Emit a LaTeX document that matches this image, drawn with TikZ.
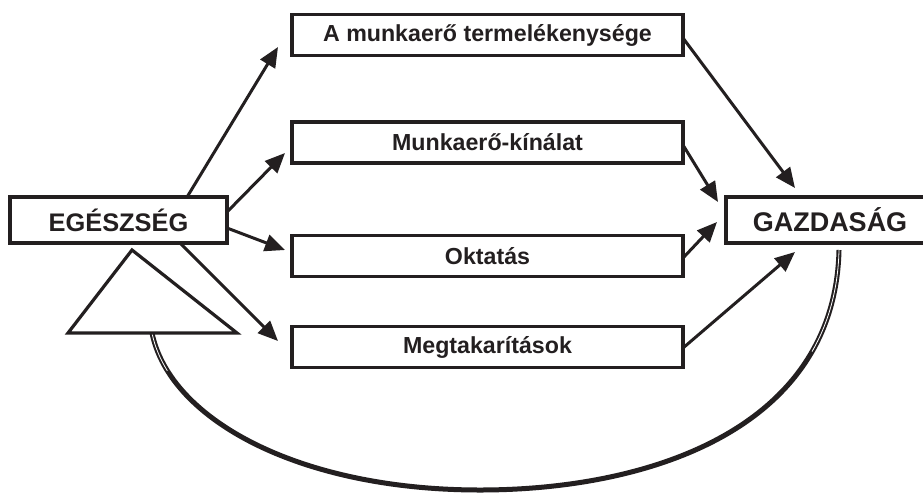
\documentclass[tikz,border=0pt]{standalone}
\usepackage{fontspec}
\setmainfont{Liberation Sans}
\usetikzlibrary{arrows.meta,calc}
\definecolor{ink}{HTML}{231F20}
\begin{document}
\begin{tikzpicture}[x=1pt,y=-1pt,
  box/.style={draw=ink, line width=3.4pt, minimum width=391pt, minimum height=41pt,
    inner sep=0pt, outer sep=0pt, text=ink, font=\fontsize{23.2}{27}\selectfont\bfseries},
  bigbox/.style={box, minimum height=46pt},
  arr/.style={draw=ink, line width=3pt, -{Triangle[length=20pt,width=17pt]}},
  band/.style={draw=ink, line width=5pt},
  gap/.style={draw=white, line width=0.8pt},
  tri/.style={draw=ink, line width=3.2pt, fill=white, line join=miter}]
\clip (0,0) rectangle (923,493);
\fill[white] (0,0) rectangle (923,493);
% nodes
\node[bigbox, minimum width=217pt, font=\fontsize{25.4}{30}\selectfont\bfseries] (egesz) at (118.5,220) {EGÉSZSÉG};
\node[bigbox, minimum width=208pt, font=\fontsize{27}{30}\selectfont\bfseries] (gazd) at (830,220) {GAZDASÁG};
\node[box] (b1) at (487.5,35) {A munkaerő termelékenysége};
\node[box] (b2) at (487.5,142.5) {Munkaerő-kínálat};
\node[box] (b3) at (487.5,256) {Oktatás};
\node[box] (b4) at (487.5,347) {Megtakarítások};
% arrow tips
\coordinate (t1) at (278,47);
\coordinate (t2) at (285,153);
\coordinate (t3) at (285,250);
\coordinate (t4) at (278,341);
\coordinate (g1) at (795,188);
\coordinate (g2) at (718,202);
\coordinate (g3) at (717,222);
\coordinate (g4) at (795,252);
% left arrows
\draw[arr] ($(egesz.north west)!0.816!(egesz.north east)$) -- (t1);
\draw[arr] ([yshift=8pt]egesz.east) -- (t2);
\draw[arr] ([yshift=-8pt]egesz.east) -- (t3);
\draw[arr] ($(egesz.south west)!0.783!(egesz.south east)$) -- (t4);
% right arrows
\draw[arr] ([yshift=-3pt]b1.east) -- (g1);
\draw[arr] ([yshift=-2.5pt]b2.east) -- (g2);
\draw[arr] ([yshift=-2pt]b3.east) -- (g3);
\draw[arr] ([yshift=-1pt]b4.east) -- (g4);
% feedback band
\coordinate (fs) at (839,250);
\coordinate (fe) at (152,333);
\draw[band] (fs) .. controls (835,429) and (649,490) .. (480,490)
  .. controls (300,490) and (170,420) .. (fe);
\draw[gap] (fs) .. controls (838.1,289.4) and (828.4,323.1) .. (812,351.6);
\draw[gap] (fe) .. controls (154.7,346.1) and (159.9,358.8) .. (167.4,370.9);
% open arrowhead
\draw[tri] (132,250) -- (68,333) -- (237,333) -- cycle;
\end{tikzpicture}
\end{document}
